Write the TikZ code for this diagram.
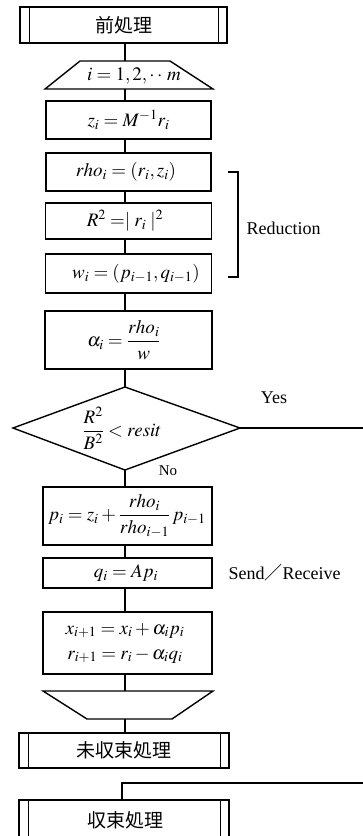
\documentclass[tikz,border=0pt]{standalone}
\usepackage{mathptmx}
\usepackage[no-math]{fontspec}
\setmainfont{Liberation Serif}
\newfontfamily\cjk{Noto Sans CJK JP}
\usepackage{amsmath}
\begin{document}
\begin{tikzpicture}[x=1pt,y=-1pt,line width=1.4pt,
  box/.style={draw,rectangle,inner sep=0pt,line width=1.4pt},
  txt/.style={inner sep=0pt,font=\fontsize{19}{22}\selectfont},
  cjkt/.style={inner sep=0pt,font=\cjk\fontsize{19}{22}\selectfont},
  lbl/.style={inner sep=0pt,font=\fontsize{18}{22}\selectfont},
  smalllbl/.style={inner sep=0pt,font=\fontsize{15}{18}\selectfont}]
\useasboundingbox (0,0) rectangle (363,836);
\clip (0,0) rectangle (363,836);
\coordinate (ax) at (125,0);
% pre-processing
\node[box,minimum width=207pt,minimum height=36pt] (pre) at (123.5,25) {};
\node[cjkt] (pret) at (pre) {前処理};
\draw ([xshift=10pt]pre.north west) -- ([xshift=10pt]pre.south west);
\draw ([xshift=-9pt]pre.north east) -- ([xshift=-9pt]pre.south east);
% loop start trapezoid
\coordinate (lpA) at (80,61); \coordinate (lpB) at (170,61);
\coordinate (lpC) at (213,89); \coordinate (lpD) at (45,89);
\draw (lpA) -- (lpB) -- (lpC) -- (lpD) -- cycle;
\node[txt] (loop) at (134,76) {$i=1,2,\cdot\cdot\, m$};
% boxes
\node[box,minimum width=165pt,minimum height=38pt] (z) at (128.5,120) {};
\node[txt] (zt) at (z) {$z_i = M^{-1} r_i$};
\node[box,minimum width=165pt,minimum height=38pt] (rho) at (128.5,172) {};
\node[txt] (rhot) at (126,172) {$rho_i = (r_i, z_i)$};
\node[box,minimum width=166pt,minimum height=36pt] (R) at (128.5,221) {};
\node[txt] (Rt) at (125,221) {$R^2 = \mid r_i \mid^2$};
\node[box,minimum width=166pt,minimum height=39pt] (w) at (128.5,273.5) {};
\node[txt] (wt) at (136,273.5) {$w_i = (p_{i-1}, q_{i-1})$};
\node[box,minimum width=167pt,minimum height=58pt] (alpha) at (128.5,340) {};
\node[txt] (alphat) at (124,340) {$\alpha_i = \dfrac{rho_i}{w}$};
% decision diamond
\coordinate (dT) at (125,387); \coordinate (dR) at (240,428);
\coordinate (dB) at (125,470); \coordinate (dL) at (13,428);
\draw (dT) -- (dR) -- (dB) -- (dL) -- cycle;
\node[txt] (cond) at (122,428) {$\dfrac{R^2}{B^2} < resit$};
\node[lbl] (yes) at (274,398) {Yes};
\node[smalllbl] (no) at (168,471) {No};
\coordinate (yesEnd) at (363,428);
% lower boxes
\node[box,minimum width=169pt,minimum height=58pt] (p) at (127.5,516) {};
\node[txt] (pt) at (127,516) {$p_i = z_i + \dfrac{rho_i}{rho_{i-1}}\, p_{i-1}$};
\node[box,minimum width=169pt,minimum height=30pt] (q) at (127.5,573) {};
\node[txt] (qt) at (126,573) {$q_i = A p_i$};
\node[lbl,anchor=west] (sr) at (228,573) {Send{\cjk ／}Receive};
\node[box,minimum width=169pt,minimum height=62pt] (xr) at (127.5,643) {};
\node[txt,align=center] (xrt) at (125,643) {$x_{i+1} = x_i + \alpha_i p_i$\\[3pt]$r_{i+1} = r_i - \alpha_i q_i$};
% loop end trapezoid
\coordinate (leA) at (43,691); \coordinate (leB) at (213,691);
\coordinate (leC) at (172,719); \coordinate (leD) at (87,719);
\draw (leA) -- (leB) -- (leC) -- (leD) -- cycle;
% not converged
\node[box,minimum width=210pt,minimum height=35pt] (mis) at (124,750.5) {};
\node[cjkt] (mist) at (mis) {未収束処理};
\draw ([xshift=10pt]mis.north west) -- ([xshift=10pt]mis.south west);
\draw ([xshift=-9pt]mis.north east) -- ([xshift=-9pt]mis.south east);
% converged
\node[box,minimum width=210pt,minimum height=50pt] (conv) at (124,825) {};
\node[cjkt] (convt) at (125,820) {収束処理};
\draw ([xshift=10pt]conv.north west) -- ([xshift=10pt]conv.south west);
\draw ([xshift=-9pt]conv.north east) -- ([xshift=-9pt]conv.south east);
% reduction bracket
\coordinate (brT) at (228,172); \coordinate (brB) at (228,277);
\draw (brT) -- ++(10,0) -- ++(0,105) -- (brB);
\node[lbl,anchor=west] (red) at (246,228) {Reduction};
% connectors
\draw (pre.south -| ax) -- (ax |- lpA);
\draw (ax |- lpD) -- (z.north -| ax);
\draw (z.south -| ax) -- (rho.north -| ax);
\draw (rho.south -| ax) -- (R.north -| ax);
\draw (R.south -| ax) -- (w.north -| ax);
\draw (w.south -| ax) -- (alpha.north -| ax);
\draw (alpha.south -| ax) -- (dT);
\draw (dB) -- (p.north -| ax);
\draw (p.south -| ax) -- (q.north -| ax);
\draw (q.south -| ax) -- (xr.north -| ax);
\draw (xr.south -| ax) -- (ax |- leA);
\draw (ax |- leD) -- (mis.north -| ax);
\draw (dR) -- (yesEnd);
\coordinate (retR) at (363,783); \coordinate (retL) at (122,783);
\draw (retR) -- (retL) -- (retL |- conv.north);
\end{tikzpicture}
\end{document}
